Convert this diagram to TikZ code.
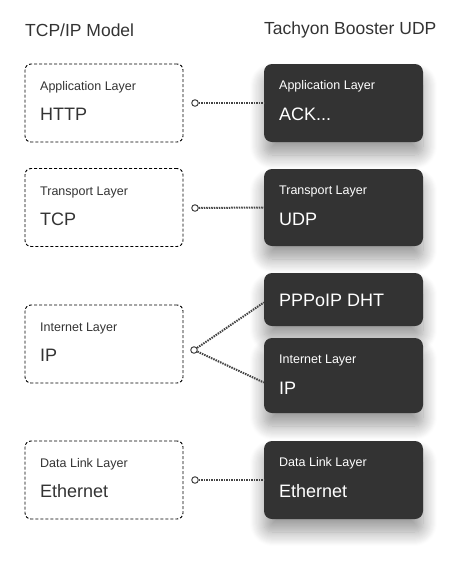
\documentclass[tikz,border=0pt]{standalone}
\usepackage{fontspec}
\setmainfont{Liberation Sans}
\usepackage{xcolor}
\usetikzlibrary{positioning,calc,shadows.blur}

\definecolor{boxdark}{HTML}{333333}
\definecolor{inkgray}{HTML}{333333}
\definecolor{linkgray}{HTML}{444444}

\tikzset{
  tcpbox/.style={draw=black, rounded corners=6pt, dash pattern=on 3pt off 2pt,
    line width=0.9pt, minimum width=158pt, minimum height=78pt, inner sep=0pt},
  udpbox/.style={fill=boxdark, rounded corners=8pt, minimum width=159pt, inner sep=0pt,
    blur shadow={shadow xshift=0pt, shadow yshift=-13pt, shadow blur radius=14pt,
      shadow opacity=40, shadow blur steps=14}},
  layername/.style={anchor=west, font=\fontsize{12.5}{14}\selectfont, text=inkgray, inner sep=0pt},
  protoname/.style={anchor=west, font=\fontsize{18}{20}\selectfont, text=inkgray, inner sep=0pt},
  heading/.style={anchor=west, font=\fontsize{17.5}{20}\selectfont, text=inkgray, inner sep=0pt},
  linkdot/.style={circle, draw=linkgray, fill=white, line width=1pt, minimum size=6.5pt, inner sep=0pt},
  link/.style={draw=linkgray, line width=2pt, dash pattern=on 1.5pt off 1pt}
}

\begin{document}
\begin{tikzpicture}[x=1pt, y=-1pt]
  \useasboundingbox (0,0) rectangle (456,563);

  % Headings
  \node[heading] (hleft) at (25, 30) {TCP/IP Model};
  \node[heading] (hright) at (264, 30) {Tachyon Booster UDP};

  % TCP/IP model column
  \node[tcpbox] (lapp) at (104, 103) {};
  \node[tcpbox] (ltra) at (104, 207.5) {};
  \node[tcpbox] (lint) at (104, 344) {};
  \node[tcpbox] (llnk) at (104, 480) {};

  \foreach \y/\lay/\pro in {87/{Application Layer}/HTTP, 192/{Transport Layer}/TCP,
                            328/{Internet Layer}/IP, 464/{Data Link Layer}/Ethernet} {
    \node[layername] at (40, \y) {\lay};
    \node[protoname] at (40, \y+27) {\pro};
  }

  % Tachyon column
  \node[udpbox, minimum height=78pt] (rapp) at (343.5, 103) {};
  \node[udpbox, minimum height=77pt] (rtra) at (343.5, 207.5) {};
  \node[udpbox, minimum height=53pt] (rppp) at (343.5, 299.5) {};
  \node[udpbox, minimum height=75pt] (rint) at (343.5, 375.5) {};
  \node[udpbox, minimum height=78pt] (rlnk) at (343.5, 480) {};

  \foreach \y/\lay/\pro in {86/{Application Layer}/{ACK...}, 191/{Transport Layer}/UDP,
                            360/{Internet Layer}/IP, 463/{Data Link Layer}/Ethernet} {
    \node[layername, text=white] at (279, \y) {\lay};
    \node[protoname, text=white] at (279, \y+28) {\pro};
  }
  \node[protoname, text=white] at (279, 300) {PPPoIP DHT};

  % Connectors
  \node[linkdot] (dapp) at (195, 103) {};
  \node[linkdot] (dtra) at (195, 208) {};
  \node[linkdot] (dint) at (194, 350) {};
  \node[linkdot] (dlnk) at (195, 480) {};

  \draw[link] (dapp) -- (rapp.west);
  \draw[link] (dtra) -- (rtra.west);
  \draw[link] (dint) -- ([yshift=-3pt]rppp.west);
  \draw[link] (dint) -- ([yshift=-7pt]rint.west);
  \draw[link] (dlnk) -- (rlnk.west);
\end{tikzpicture}
\end{document}
